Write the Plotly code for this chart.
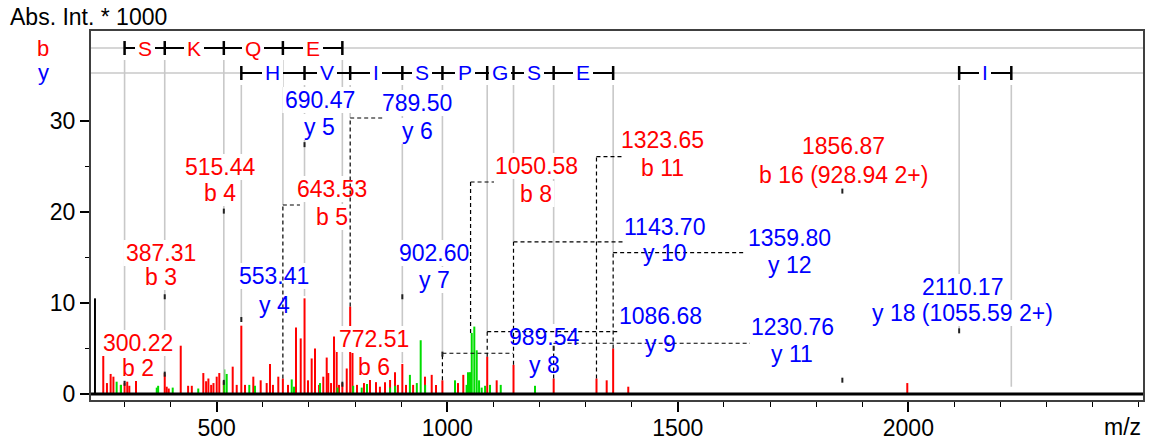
import plotly.graph_objects as go

# ---------------- data ----------------
# sequence ladders (ion m/z of the ladder markers) and residues between them
b_seq_mz = [300.22, 387.31, 515.44, 643.53, 772.51]
b_seq_aa = ["S", "K", "Q", "E"]
y_seq_mz = [553.41, 690.47, 789.50, 902.60, 989.54, 1086.68, 1143.70, 1230.76, 1359.80]
y_seq_aa = ["H", "V", "I", "S", "P", "G", "S", "E"]
y_seq2_mz = [2110.17, 2223.30]
y_seq2_aa = ["I"]

# spectrum peaks (m/z, intensity * 1000)
red_mz = [254, 262, 270, 276, 292, 300.2, 306, 310.5, 325, 387.3, 391.6, 396, 422, 438, 446,
          471, 477, 482, 488, 493, 500, 505.6, 515.4, 534.7, 543.4, 553.4, 561.4, 579.4, 595.4,
          608.4, 615.6, 622, 633.6, 643.5, 654.6, 672, 682.2, 690.5, 698, 706, 713.2, 722, 731.2,
          738.6, 742, 748, 754.4, 760.2, 765.2, 772.5, 782, 789.5, 794.5, 804.3, 819.4, 832.5,
          845.5, 854, 865, 876, 886.7, 893, 902.6, 910.5, 926, 951.7, 966.3, 975.6, 989.5, 1023.3,
          1034.8, 1050.6, 1086.7, 1107.2, 1143.7, 1230.8, 1323.7, 1345.8, 1359.8, 1392.6, 1997.7]
red_int = [5.2, 1.2, 2.2, 1.9, 1.0, 1.2, 1.35, 0.9, 1.5, 2.3, 0.8, 0.6, 5.3, 0.9, 0.9,
           2.3, 1.4, 1.7, 1.0, 1.2, 1.9, 2.3, 1.4, 3.0, 1.0, 7.5, 1.0, 1.9, 1.5,
           1.2, 3.3, 1.0, 1.9, 1.7, 1.0, 7.3, 6.1, 10.5, 1.5, 3.9, 5.0, 1.0, 1.9,
           4.0, 2.3, 1.2, 6.3, 4.8, 1.0, 1.2, 2.8, 9.6, 4.5, 1.0, 1.2, 1.7,
           1.3, 0.8, 1.3, 1.9, 2.4, 1.0, 3.3, 1.0, 1.0, 1.9, 2.1, 1.0, 1.5, 1.2,
           2.1, 1.0, 4.1, 1.5, 3.2, 1.7, 1.7, 1.5, 5.0, 0.8, 1.2]
green_mz = [283, 292.5, 370, 373, 404.6, 460, 516.5, 521.7, 570.7, 583, 662.7, 667.6, 724, 762,
            796, 814.5, 826, 876, 887, 919, 934, 942.4, 952, 1016.8, 1042, 1045, 1049.4, 1053.1,
            1058.7, 1063.9, 1069, 1074.7, 1082, 1092.7, 1116, 1190.3]
green_int = [1.35, 1.0, 0.7, 0.9, 0.7, 0.6, 2.7, 2.2, 1.0, 0.9, 1.6, 0.8, 1.2, 0.7,
             0.9, 0.7, 1.1, 0.7, 0.9, 2.1, 1.2, 5.9, 1.0, 1.5, 1.0, 2.4, 2.4, 6.7,
             7.4, 4.8, 1.5, 0.7, 0.9, 1.0, 1.0, 0.9]
black_mz = [236.0]
black_int = [10.5]

# annotated ions
ion_mz = [300.22, 387.31, 515.44, 553.41, 690.47, 643.53, 789.50, 772.51, 902.60,
          1050.58, 1323.65, 1143.70, 989.54, 1086.68, 1359.80, 1230.76, 1856.87, 2110.17]
ion_name = ["b 2", "b 3", "b 4", "y 4", "y 5", "b 5", "y 6", "b 6", "y 7",
            "b 8", "b 11", "y 10", "y 8", "y 9", "y 12", "y 11",
            "b 16 (928.94 2+)", "y 18 (1055.59 2+)"]

# ---------------- layout / placement ----------------
label_x = [329.3, 379.2, 508.2, 624.3, 724.0, 750.0, 934.4, 840.1, 971.3,
           1192.5, 1466.8, 1472.2, 1210.9, 1461.4, 1743.3, 1747.7, 1860.4, 2116.5]
label_y1 = [5.60, 15.48, 24.92, 12.95, 32.28, 22.51, 31.95, 6.04, 15.48,
            25.03, 27.88, 18.33, 6.26, 8.56, 17.13, 7.36, 27.23, 11.75]
label_y2 = [2.85, 12.84, 22.07, 9.77, 29.31, 19.43, 28.87, 2.96, 12.52,
            21.96, 24.81, 15.48, 3.18, 5.49, 14.16, 4.39, 24.04, 8.89]

gray_end_b = [1.2, 2.1, 1.4, 20.75, 1.2]
gray_end_y = [8.1, 10.75, 30.3, 3.4, 4.47, 6.84, 16.69, 5.57, 15.51]
gray_end_y2 = [6.84, 0.8]

# dashed connectors: ion m/z, start (peak top), corner height, end m/z
conn_mz = [643.53, 789.50, 1050.58, 1323.65, 1143.70, 1359.80, 1086.68, 1230.76, 989.54]
conn_from = [1.7, 9.6, 6.7, 1.7, 3.2, 5.0, 4.1, 1.7, 1.5]
conn_at = [20.75, 30.3, 23.27, 26.05, 16.69, 15.51, 6.84, 5.57, 4.47]
conn_to = [680.6, 865.0, 1101.4, 1379.0, 1381.2, 1645.7, 1369.7, 1656.6, 1142.6]

# small black anchor marks
mark_mz = [300.22, 387.31, 387.31, 515.44, 515.44, 553.41, 690.47, 772.51, 902.60,
           989.54, 1230.76, 1856.87, 1856.87, 2110.17]
mark_lo = [0.9, 10.4, 1.9, 19.8, 1.0, 7.9, 27.1, 0.8, 10.4, 4.1, 4.75, 22.0, 1.24, 6.66]

FONT = "Liberation Sans, Arial, sans-serif"
RED, BLUE, GREEN, GRAY = "#ff0000", "#0000ff", "#00dd00", "#c8c8c8"

W, H = 1151, 442
ML, MR, MT, MB = 91, 8, 31, 42
XR = [227.4, 2508.9]
YR = [-0.66, 39.85]
sx = (W - ML - MR) / (XR[1] - XR[0])
sy = (H - MT - MB) / (YR[1] - YR[0])


def dx(px):
    return px / sx


def dy(px):
    return px / sy


ROW_B = 37.98
ROW_Y = 35.24
LFS = 23

CW = {'.': .278, ' ': .278, 'b': .556, 'y': .5, '(': .333, ')': .333, '+': .584}


def text_w(t, fs):
    return sum(CW.get(c, .556) for c in t) * fs


fig = go.Figure()
for mz, it, col in [(red_mz, red_int, RED), (green_mz, green_int, GREEN), (black_mz, black_int, "black")]:
    xs, ys = [], []
    for m, v in zip(mz, it):
        xs += [m, m, None]
        ys += [0, v, None]
    fig.add_trace(go.Scatter(x=xs, y=ys, mode="lines", line=dict(color=col, width=2),
                             hoverinfo="skip", showlegend=False))

shapes = []
ann = []


def line(x0, y0, x1, y1, color, width, dash=None, xref="x"):
    d = dict(type="line", xref=xref, yref="y", x0=x0, y0=y0, x1=x1, y1=y1,
             line=dict(color=color, width=width), layer="above")
    if dash:
        d["line"]["dash"] = dash
    shapes.append(d)


# row guide lines
for r in (ROW_B, ROW_Y):
    line(0, r, 1, r, GRAY, 1.5, xref="paper")

# gray verticals from ladder markers
for seq, ends, row in [(b_seq_mz, gray_end_b, ROW_B), (y_seq_mz, gray_end_y, ROW_Y), (y_seq2_mz, gray_end_y2, ROW_Y)]:
    for m, e in zip(seq, ends):
        line(m, row - dy(12), m, e, GRAY, 1.6)

# white boxes behind label lines
PAD = 2.5
HH = 13
for i, m in enumerate(ion_mz):
    for t, ly in ((f"{m:.2f}", label_y1[i]), (ion_name[i], label_y2[i])):
        w = text_w(t, LFS) / 2 + PAD
        shapes.append(dict(type="rect", xref="x", yref="y", x0=label_x[i] - dx(w), x1=label_x[i] + dx(w),
                           y0=ly - dy(HH), y1=ly + dy(HH), fillcolor="white", line=dict(width=0), layer="above"))

# dashed connectors
for m, f, a, t in zip(conn_mz, conn_from, conn_at, conn_to):
    line(m, f, m, a, "black", 1.2, dash="4px,3px")
    line(m, a, t, a, "black", 1.2, dash="4px,3px")

# anchor marks
for m, lo in zip(mark_mz, mark_lo):
    line(m, lo, m, lo + dy(5), "#202020", 2)

# ladders
for seq, row in [(b_seq_mz, ROW_B), (y_seq_mz, ROW_Y), (y_seq2_mz, ROW_Y)]:
    line(seq[0], row, seq[-1], row, "black", 2)
    for m in seq:
        line(m, row - dy(7), m, row + dy(7), "black", 2.5)

# baseline
line(0, 0, 1, 0, "black", 3, xref="paper")

fig.update_layout(shapes=shapes)

# ladder residue letters
for seq, aas, row, col in [(b_seq_mz, b_seq_aa, ROW_B, RED), (y_seq_mz, y_seq_aa, ROW_Y, BLUE),
                           (y_seq2_mz, y_seq2_aa, ROW_Y, BLUE)]:
    for k, aa in enumerate(aas):
        ann.append(dict(x=(seq[k] + seq[k + 1]) / 2, y=row, xref="x", yref="y", text=aa, showarrow=False,
                        font=dict(family=FONT, size=21, color=col), bgcolor="white", borderpad=3,
                        borderwidth=0, xanchor="center", yanchor="middle"))

# ion labels
for i, m in enumerate(ion_mz):
    col = RED if ion_name[i].startswith("b") else BLUE
    for t, ly in ((f"{m:.2f}", label_y1[i]), (ion_name[i], label_y2[i])):
        ann.append(dict(x=label_x[i], y=ly, xref="x", yref="y", text=t, showarrow=False,
                        font=dict(family=FONT, size=LFS, color=col), xanchor="center", yanchor="middle"))

# row names and axis texts
ann.append(dict(x=(43 - ML) / (W - ML - MR), y=ROW_B, xref="paper", yref="y", text="b", showarrow=False,
                font=dict(family=FONT, size=22, color=RED), xanchor="center", yanchor="middle"))
ann.append(dict(x=(43 - ML) / (W - ML - MR), y=ROW_Y, xref="paper", yref="y", text="y", showarrow=False,
                font=dict(family=FONT, size=22, color=BLUE), xanchor="center", yanchor="middle"))
ann.append(dict(x=(8 - ML) / (W - ML - MR), y=1 + (MT - 17) / (H - MT - MB), xref="paper", yref="paper",
                text="Abs. Int. * 1000", showarrow=False, font=dict(family=FONT, size=23, color="black"),
                xanchor="left", yanchor="middle"))
ann.append(dict(x=1, y=-(427 - (H - MB)) / (H - MT - MB), xref="paper", yref="paper", text="m/z",
                showarrow=False, font=dict(family=FONT, size=23, color="black"),
                xanchor="right", yanchor="middle"))

fig.update_layout(
    annotations=ann,
    width=W, height=H,
    margin=dict(l=ML, r=MR, t=MT, b=MB, pad=0, autoexpand=False),
    paper_bgcolor="white", plot_bgcolor="white",
    font=dict(family=FONT, size=23, color="black"),
    xaxis=dict(range=XR, showgrid=False, zeroline=False, showline=True, mirror=True,
               linecolor="#404040", linewidth=2, ticks="outside", tickvals=[500, 1000, 1500, 2000],
               ticklen=10, tickwidth=1.5, tickcolor="black", ticklabelstandoff=-4,
               minor=dict(tickvals=list(range(300, 2501, 100)), ticklen=5, tickwidth=1.2,
                          tickcolor="black", ticks="outside"),
               tickfont=dict(family=FONT, size=23, color="black")),
    yaxis=dict(range=YR, showgrid=False, zeroline=False, showline=True, mirror=True,
               linecolor="#404040", linewidth=2, ticks="outside", tickvals=[0, 10, 20, 30],
               ticklen=9, tickwidth=1.5, tickcolor="black",
               minor=dict(tickvals=[5, 15, 25], ticklen=4, tickwidth=1.2, tickcolor="black", ticks="outside"),
               tickfont=dict(family=FONT, size=23, color="black")),
)

fig.write_html("out.html", config={"displayModeBar": False},
               post_script="document.body.style.margin='0px';document.body.style.padding='0px';")
